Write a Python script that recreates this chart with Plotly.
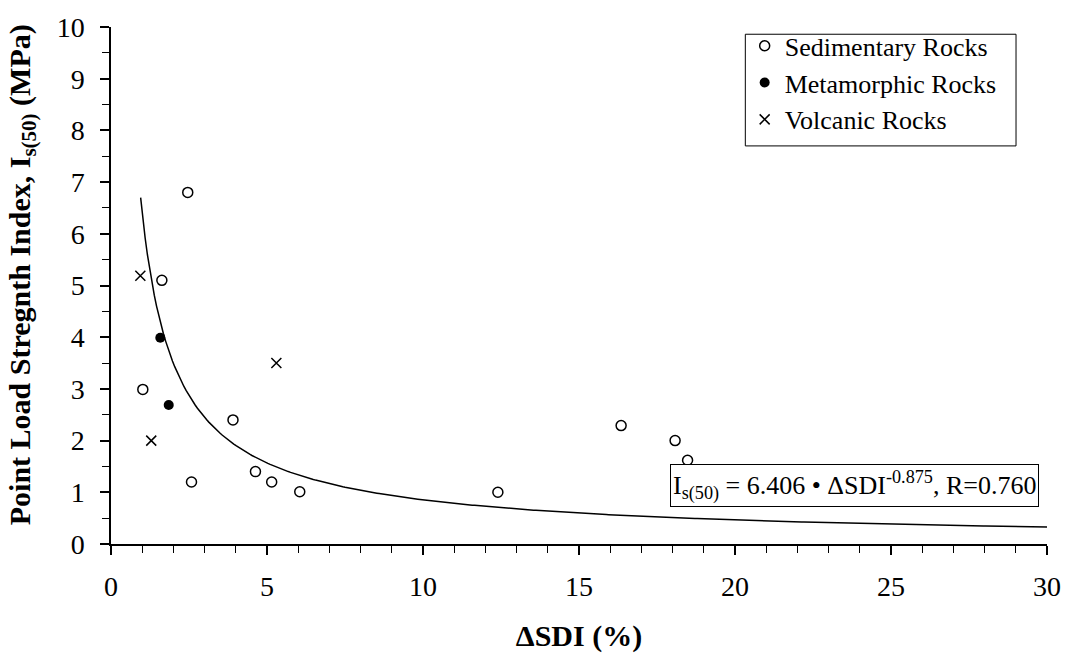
import numpy as np
import plotly.graph_objects as go

# Data
sed_x = [2.46, 1.63, 1.02, 3.91, 4.63, 2.58, 5.15, 6.05, 12.40, 16.35, 18.08, 18.48]
sed_y = [6.80, 5.10, 2.99, 2.40, 1.40, 1.20, 1.20, 1.01, 1.00, 2.29, 2.00, 1.62]
met_x = [1.58, 1.85]
met_y = [3.99, 2.69]
vol_x = [0.94, 5.30, 1.29]
vol_y = [5.19, 3.50, 2.00]

# Fitted power law  Is(50) = a * dSDI^b
fit_a = 6.406
fit_b = -0.875
fit_xmin, fit_xmax = 0.95, 30.0

x_ticks = [0, 5, 10, 15, 20, 25, 30]
y_ticks = list(range(0, 11))

fit_x = np.linspace(fit_xmin, fit_xmax, 400)
fit_y = fit_a * fit_x ** fit_b

FONT = "Liberation Serif"

fig = go.Figure()
fig.add_trace(go.Scatter(x=fit_x, y=fit_y, mode="lines",
                         line=dict(color="black", width=1.5),
                         showlegend=False, hoverinfo="skip"))
fig.add_trace(go.Scatter(x=sed_x, y=sed_y, mode="markers", name="Sedimentary Rocks",
                         marker=dict(symbol="circle-open", size=10, color="black",
                                     line=dict(width=1.5, color="black"))))
fig.add_trace(go.Scatter(x=met_x, y=met_y, mode="markers", name="Metamorphic Rocks",
                         marker=dict(symbol="circle", size=10, color="black")))
fig.add_trace(go.Scatter(x=vol_x, y=vol_y, mode="markers", name="Volcanic Rocks",
                         marker=dict(symbol="x-thin-open", size=10, color="black",
                                     line=dict(width=1.5, color="black"))))

fig.update_layout(
    width=1073, height=661,
    margin=dict(l=111, r=25, t=21, b=117),
    plot_bgcolor="white", paper_bgcolor="white",
    font=dict(family=FONT, size=26, color="black"),
    showlegend=True,
    legend=dict(x=0.677, y=1.009, xanchor="left", yanchor="top",
                borderwidth=0, bgcolor="rgba(0,0,0,0)",
                font=dict(family=FONT, size=26, color="black"),
                itemwidth=30, tracegroupgap=0),
    xaxis=dict(range=[0, 30], tickvals=x_ticks, ticktext=[str(v) for v in x_ticks],
               showgrid=False, zeroline=False, showline=True, linecolor="black", linewidth=1.5,
               ticks="outside", ticklen=9, tickwidth=1.5, tickcolor="black",
               minor=dict(dtick=1, ticks="outside", ticklen=7, tickwidth=1, tickcolor="black"),
               tickfont=dict(family=FONT, size=28), ticklabelstandoff=8, fixedrange=True,
               title=dict(text="<b>ΔSDI (%)</b>", font=dict(family=FONT, size=30), standoff=24)),
    yaxis=dict(range=[0, 10], tickvals=y_ticks, ticktext=[str(v) for v in y_ticks],
               showgrid=False, zeroline=False, showline=True, linecolor="black", linewidth=1.5,
               ticks="outside", ticklen=9, tickwidth=1.5, tickcolor="black",
               minor=dict(dtick=0.5, ticks="outside", ticklen=7, tickwidth=1, tickcolor="black"),
               tickfont=dict(family=FONT, size=28), ticklabelstandoff=10, fixedrange=True),
)

# y-axis title
fig.add_annotation(
    xref="paper", yref="paper", x=-0.095, y=0.52, xanchor="center", yanchor="middle",
    textangle=-90, showarrow=False,
    text="<b>Point Load Stregnth Index, I<sub>s(50)</sub> (MPa)</b>",
    font=dict(family=FONT, size=30, color="black"))

# legend frame
fig.add_shape(type="rect", xref="paper", yref="paper",
              x0=0.6777, x1=0.9669, y0=0.770, y1=0.986,
              line=dict(color="black", width=1), fillcolor="rgba(0,0,0,0)", layer="above")

fig.add_annotation(
    xref="paper", yref="paper", x=0.991, y=0.0707, xanchor="right", yanchor="bottom",
    text=f"I<sub>s(50)</sub> = {fit_a:.3f} • ΔSDI<sup>{fit_b:.3f}</sup>, R=0.760",
    showarrow=False, font=dict(family=FONT, size=26, color="black"),
    bordercolor="black", borderwidth=1, borderpad=2, bgcolor="white", align="left")

fig.write_html("out.html")
